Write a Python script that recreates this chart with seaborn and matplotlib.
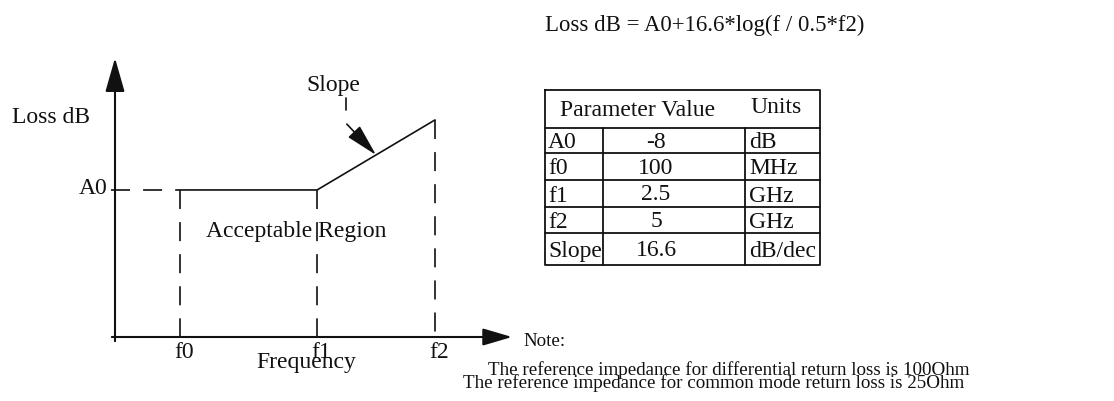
import matplotlib
matplotlib.use("Agg")
import matplotlib.pyplot as plt
import seaborn as sns

# ---------------- data ----------------
freq_labels = ["f0", "f1", "f2"]
freq_pos = [16.4, 50.9, 80.6]        # schematic frequency positions
mask_loss = [52.7, 52.7, 77.8]       # schematic loss levels (A0 flat, then slope)
level_label = "A0"
y_label = "Loss dB"
x_label = "Frequency"
region_label = "Acceptable Region"
slope_label = "Slope"
formula = "Loss dB = A0+16.6*log(f / 0.5*f2)"
table_header = ["Parameter Value", "Units"]
param_names = ["A0", "f0", "f1", "f2", "Slope"]
param_values = ["-8", "100", "2.5", "5", "16.6"]
param_units = ["dB", "MHz", "GHz", "GHz", "dB/dec"]
note_title = "Note:"
note_lines = ["The reference impedance for differential return loss is 100Ohm",
              "The reference impedance for common mode return loss is 25Ohm"]

# ---------------- style ----------------
sns.set_style("white")
plt.rcParams["font.family"] = ["Liberation Serif", "DejaVu Serif"]
plt.rcParams["lines.scale_dashes"] = False
FS = 17
DASH = (0, (13.7, 9.4))
K = "#111111"

W, H = 1114, 401
fig = plt.figure(figsize=(W / 100, H / 100), dpi=100)
fig.patch.set_facecolor("white")

# overlay axes in pixel coordinates (for table / notes)
ov = fig.add_axes([0, 0, 1, 1])
ov.set_xlim(0, W)
ov.set_ylim(H, 0)
ov.axis("off")

# graph axes
gx0, gx1, gy0, gy1 = 115, 512, 58, 337
ax = fig.add_axes([gx0 / W, (H - gy1) / H, (gx1 - gx0) / W, (gy1 - gy0) / H])
ax.set_xlim(0, 100)
ax.set_ylim(0, 100)
ax.axis("off")
ax.patch.set_alpha(0)

# axes with arrows
ax.annotate("", xy=(0, 100), xytext=(0, -1.5), xycoords="data",
            arrowprops=dict(arrowstyle="-|>,head_length=21,head_width=6",
                            mutation_scale=1, lw=1.5, color=K,
                            shrinkA=0, shrinkB=0),
            annotation_clip=False)
ax.annotate("", xy=(100, 0), xytext=(-0.8, 0), xycoords="data",
            arrowprops=dict(arrowstyle="-|>,head_length=18,head_width=5.3",
                            mutation_scale=1, lw=1.5, color=K,
                            shrinkA=0, shrinkB=0),
            annotation_clip=False)

# mask line
sns.lineplot(x=freq_pos, y=mask_loss, ax=ax, color=K, lw=1.2)
for ln in ax.lines:
    ln.set_clip_on(False)

# A0 dashed level
ax.plot([-1.0, freq_pos[0]], [mask_loss[0], mask_loss[0]], color=K,
        lw=1.2, ls=DASH, clip_on=False)
# vertical dashed lines
for xv, yv in zip(freq_pos, mask_loss):
    ax.plot([xv, xv], [yv, 0], color=K, lw=1.2, ls=DASH, clip_on=False)

# labels on graph
for lab, xv in zip(freq_labels, freq_pos):
    ax.text(xv + 1.0, -7.5, lab, ha="center", va="baseline", fontsize=FS,
            color=K, clip_on=False)
ax.text(-2.0, mask_loss[0] - 1.4, level_label, ha="right", va="baseline",
        fontsize=FS, color=K, clip_on=False)
ax.text(-25.9, 76.8, y_label, ha="left", va="baseline", fontsize=FS,
        color=K, clip_on=False)
ax.text(48.1, -11.1, x_label, ha="center", va="baseline", fontsize=FS,
        color=K, clip_on=False)
ax.text(45.6, 35.8, region_label, ha="center", va="baseline", fontsize=FS,
        color=K, clip_on=False)
ax.text(54.9, 88.3, slope_label, ha="center", va="baseline", fontsize=FS,
        color=K, clip_on=False)

# slope pointer
tip = (freq_pos[1] + 0.5 * (freq_pos[2] - freq_pos[1]),
       mask_loss[1] + 0.5 * (mask_loss[2] - mask_loss[1]))
ax.plot([58.2, 58.2], [85.7, 81.4], color=K, lw=1.2, clip_on=False)
ax.annotate("", xy=tip, xytext=(58.4, 76.3), xycoords="data",
            arrowprops=dict(arrowstyle="-|>,head_length=20,head_width=5",
                            mutation_scale=1, lw=1.2, color=K,
                            shrinkA=0, shrinkB=0),
            annotation_clip=False)

# ---------------- formula ----------------
ov.text(545, 30.7, formula, ha="left", va="baseline", fontsize=16.4, color=K)

# ---------------- table ----------------
tl, tr, tt, tb = 545, 820, 90, 265
row_edges = [128, 153, 180, 207, 233, 265]
col_edges = [603, 745]
TLW = 1.3
ov.plot([tl, tr, tr, tl, tl], [tt, tt, tb, tb, tt], color=K, lw=TLW)
for ye in row_edges[:-1]:
    ov.plot([tl, tr], [ye, ye], color=K, lw=TLW)
for xe in col_edges:
    ov.plot([xe, xe], [row_edges[0], tb], color=K, lw=TLW)

ov.text(560, 116.5, table_header[0], ha="left", va="baseline", fontsize=FS, color=K)
ov.text(750, 113, table_header[1], ha="left", va="baseline", fontsize=FS, color=K)
for i, (n, v, u) in enumerate(zip(param_names, param_values, param_units)):
    yc = (row_edges[i] + row_edges[i + 1]) / 2 + 8
    ov.text(548, yc, n, ha="left", va="baseline", fontsize=FS, color=K)
    ov.text(656, yc - 1, v, ha="center", va="baseline", fontsize=FS, color=K)
    ov.text(749, yc, u, ha="left", va="baseline", fontsize=FS, color=K)

# ---------------- notes ----------------
ov.text(523, 346.5, note_title, ha="left", va="baseline", fontsize=13.7, color=K)
ov.text(488, 375, note_lines[0], ha="left", va="baseline", fontsize=13.7, color=K)
ov.text(463, 387.5, note_lines[1], ha="left", va="baseline", fontsize=13.7, color=K)

fig.savefig("out.png", dpi=100, facecolor="white")
